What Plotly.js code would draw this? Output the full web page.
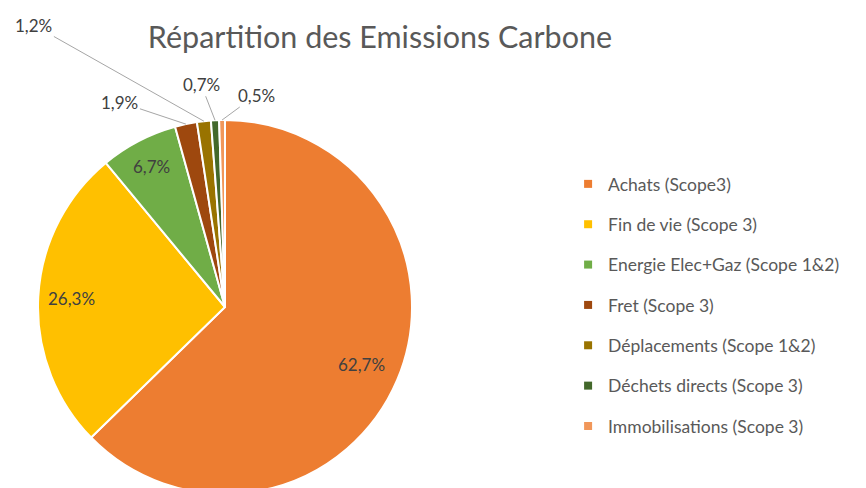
<!DOCTYPE html>
<html>
<head>
<meta charset="utf-8">
<script src="https://cdn.plot.ly/plotly-3.0.1.min.js"></script>
<style>
html,body{margin:0;padding:0;overflow:hidden;background:#fff;}
#chart{width:866px;height:500px;}
</style>
</head>
<body>
<div id="chart"></div>
<script>
// ---- data ----
const categories = [
  "Achats (Scope3)",
  "Fin de vie (Scope 3)",
  "Energie Elec+Gaz (Scope 1&2)",
  "Fret (Scope 3)",
  "Déplacements (Scope 1&2)",
  "Déchets directs (Scope 3)",
  "Immobilisations (Scope 3)"
];
const shares = [62.7, 26.3, 6.7, 1.9, 1.2, 0.7, 0.5];
const colors = ["#ED7D31", "#FFC000", "#70AD47", "#9E480E", "#997300", "#43682B", "#F1975A"];
const titleText = "Répartition des Emissions Carbone";

// ---- layout geometry ----
const W = 866, H = 500;
const M = {l: 0, r: 0, t: 120, b: 6};
const plotW = W - M.l - M.r, plotH = H - M.t - M.b;
const cx = 225, R = plotH / 2, cy = M.t + R;
const domX = [(cx - R) / plotW, (cx + R) / plotW];

const FONT = "Lato, 'Open Sans', sans-serif";
const labelFont = {family: FONT, size: 17, color: "#404040"};
const textGrey = "#595959";

const bigLimit = 5;

const pie = {
  type: "pie",
  labels: categories,
  values: shares,
  sort: false,
  direction: "clockwise",
  rotation: 0,
  domain: {x: domX, y: [0, 1]},
  marker: {colors: colors, line: {color: "#ffffff", width: 2}},
  textinfo: "none",
  showlegend: false,
  hoverinfo: "label+percent"
};

// legend entries (markers only, no data points)
const legendTraces = categories.map((c, i) => ({
  type: "scatter",
  mode: "markers",
  x: [null], y: [null],
  name: c,
  legendgroup: "g" + i,
  marker: {symbol: "square", size: 8, color: colors[i]},
  hoverinfo: "skip",
  showlegend: true
}));

// label placement: inside labels at a fraction of the radius,
// outside labels offset (pixels) from the slice edge with a leader line
const insideRadius = {0: 0.79, 1: 0.82, 2: 0.85};
const outsideOffsets = {3: [-66, -22], 4: [-170, -96], 5: [-14, -36], 6: [34, -25]};
const total = shares.reduce((a, b) => a + b, 0);
const toPaperX = px => (px - M.l) / plotW;
const toPaperY = py => (H - M.b - py) / plotH;
const annotations = [];
let cum = 0;
shares.forEach((v, i) => {
  const mid = (cum + v / 2) / total * 2 * Math.PI;
  cum += v;
  const txt = (v / total * 100).toFixed(1).replace(".", ",") + "%";
  if (v >= bigLimit) {
    const f = insideRadius[i];
    annotations.push({
      xref: "paper", yref: "paper",
      x: toPaperX(cx + f * R * Math.sin(mid)),
      y: toPaperY(cy - f * R * Math.cos(mid)),
      xanchor: "center", yanchor: "middle",
      text: txt, showarrow: false, font: labelFont
    });
  } else {
    const off = outsideOffsets[i];
    annotations.push({
      xref: "paper", yref: "paper",
      x: toPaperX(cx + R * Math.sin(mid)),
      y: toPaperY(cy - R * Math.cos(mid)),
      text: txt,
      showarrow: true, arrowhead: 0, arrowwidth: 1, arrowcolor: "#A6A6A6",
      standoff: 0, ax: off[0], ay: off[1],
      font: labelFont
    });
  }
});

const layout = {
  width: W, height: H,
  margin: M,
  separators: ",.",
  paper_bgcolor: "#ffffff",
  plot_bgcolor: "#ffffff",
  font: {family: FONT, color: textGrey},
  title: {
    text: titleText,
    font: {family: FONT, size: 30.5, color: textGrey},
    x: 380 / W, xanchor: "center", xref: "container",
    y: 1 - 37 / H, yanchor: "middle", yref: "container"
  },
  xaxis: {visible: false, fixedrange: true},
  yaxis: {visible: false, fixedrange: true},
  showlegend: true,
  legend: {
    x: 0.656, xanchor: "left",
    y: (H - M.b - 166) / plotH, yanchor: "top",
    traceorder: "grouped",
    tracegroupgap: 14.6,
    itemsizing: "trace",
    font: {family: FONT, size: 17.5, color: textGrey},
    bgcolor: "rgba(0,0,0,0)"
  },
  annotations: annotations
};

Plotly.newPlot("chart", [pie].concat(legendTraces), layout, {displayModeBar: false, staticPlot: true});
</script>
</body>
</html>
